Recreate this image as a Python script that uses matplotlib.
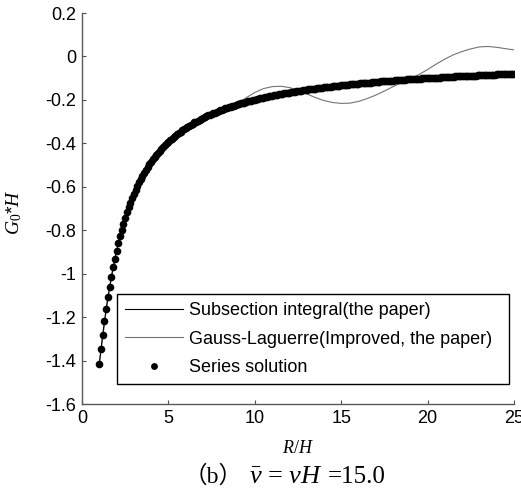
import numpy as np
import matplotlib
matplotlib.use('Agg')
import matplotlib.pyplot as plt

plt.rcParams['font.family'] = ['Liberation Sans', 'DejaVu Sans']
plt.rcParams['axes.unicode_minus'] = False
plt.rcParams['mathtext.fontset'] = 'custom'
plt.rcParams['mathtext.it'] = 'Liberation Serif:italic'
plt.rcParams['mathtext.rm'] = 'Liberation Serif'

# Series solution, one dot every 0.1 in R/H
series_r = np.linspace(1.0, 25.0, 241)
series_g = [
    -1.414, -1.345, -1.280, -1.219, -1.162, -1.109, -1.060, -1.014, -0.971, -0.931,
    -0.894, -0.860, -0.828, -0.797, -0.769, -0.743, -0.718, -0.695, -0.673, -0.652,
    -0.632, -0.614, -0.597, -0.580, -0.564, -0.549, -0.535, -0.522, -0.509, -0.497,
    -0.485, -0.474, -0.463, -0.453, -0.443, -0.434, -0.425, -0.416, -0.408, -0.400,
    -0.392, -0.385, -0.378, -0.371, -0.364, -0.358, -0.352, -0.346, -0.340, -0.334,
    -0.329, -0.324, -0.318, -0.314, -0.309, -0.304, -0.300, -0.295, -0.291, -0.287,
    -0.283, -0.279, -0.275, -0.271, -0.268, -0.264, -0.261, -0.258, -0.254, -0.251,
    -0.248, -0.245, -0.242, -0.239, -0.236, -0.234, -0.231, -0.228, -0.226, -0.223,
    -0.221, -0.218, -0.216, -0.214, -0.212, -0.209, -0.207, -0.205, -0.203, -0.201,
    -0.199, -0.197, -0.195, -0.193, -0.191, -0.190, -0.188, -0.186, -0.184, -0.183,
    -0.181, -0.179, -0.178, -0.176, -0.175, -0.173, -0.172, -0.170, -0.169, -0.167,
    -0.166, -0.165, -0.163, -0.162, -0.161, -0.160, -0.158, -0.157, -0.156, -0.155,
    -0.153, -0.152, -0.151, -0.150, -0.149, -0.148, -0.147, -0.146, -0.145, -0.144,
    -0.142, -0.141, -0.140, -0.140, -0.139, -0.138, -0.137, -0.136, -0.135, -0.134,
    -0.133, -0.132, -0.131, -0.130, -0.130, -0.129, -0.128, -0.127, -0.126, -0.126,
    -0.125, -0.124, -0.123, -0.122, -0.122, -0.121, -0.120, -0.120, -0.119, -0.118,
    -0.117, -0.117, -0.116, -0.115, -0.115, -0.114, -0.113, -0.113, -0.112, -0.112,
    -0.111, -0.110, -0.110, -0.109, -0.109, -0.108, -0.107, -0.107, -0.106, -0.106,
    -0.105, -0.105, -0.104, -0.103, -0.103, -0.102, -0.102, -0.101, -0.101, -0.100,
    -0.100, -0.099, -0.099, -0.098, -0.098, -0.097, -0.097, -0.097, -0.096, -0.096,
    -0.095, -0.095, -0.094, -0.094, -0.093, -0.093, -0.092, -0.092, -0.092, -0.091,
    -0.091, -0.090, -0.090, -0.090, -0.089, -0.089, -0.088, -0.088, -0.088, -0.087,
    -0.087, -0.087, -0.086, -0.086, -0.085, -0.085, -0.085, -0.084, -0.084, -0.084,
    -0.083, -0.083, -0.083, -0.082, -0.082, -0.082, -0.081, -0.081, -0.081, -0.080,
    -0.080]

# Subsection integral lies on top of the series solution
sub_r = series_r
sub_g = series_g

# Gauss-Laguerre (improved), wavy after R/H ~ 9
gl_r = [1.0, 1.5, 2.0, 2.5, 3.0, 4.0, 5.0, 6.0, 7.0, 8.0, 8.5, 9.0, 9.5, 10.0,
        10.5, 11.0, 11.5, 12.0, 12.5, 13.0, 13.5, 14.0, 14.5, 15.0, 15.5, 16.0,
        16.5, 17.0, 17.5, 18.0, 18.5, 19.0, 19.5, 20.0, 20.5, 21.0, 21.5, 22.0,
        22.5, 23.0, 23.5, 24.0, 24.5, 25.0]
gl_g = [-1.414, -1.109, -0.894, -0.743, -0.632, -0.485, -0.392, -0.329, -0.283,
        -0.248, -0.233, -0.214, -0.190, -0.166, -0.148, -0.139, -0.137, -0.143,
        -0.155, -0.172, -0.189, -0.203, -0.212, -0.216, -0.215, -0.207, -0.194,
        -0.178, -0.159, -0.139, -0.120, -0.102, -0.083, -0.060, -0.035, -0.012,
        0.008, 0.023, 0.035, 0.044, 0.046, 0.042, 0.036, 0.030]

xticks = [0, 5, 10, 15, 20, 25]
yticks = [0.2, 0, -0.2, -0.4, -0.6, -0.8, -1, -1.2, -1.4, -1.6]

fig = plt.figure(figsize=(5.21, 4.93), dpi=100)
ax = fig.add_axes([0.1574, 0.1805, 0.8292, 0.7931])

ax.plot(gl_r, gl_g, '-', color='0.45', lw=0.8,
        label='Gauss-Laguerre(Improved, the paper)')
ax.plot(sub_r, sub_g, '-', color='k', lw=0.8,
        label='Subsection integral(the paper)')
ax.plot(series_r, series_g, 'o', color='k', ms=5.5, mew=0,
        label='Series solution')

ax.set_xlim(0, 25)
ax.set_ylim(-1.6, 0.2)
ax.set_xticks(xticks)
ax.set_yticks(yticks)
ax.set_xticklabels(['%g' % t for t in xticks])
ax.set_yticklabels(['%g' % t for t in yticks])
ax.tick_params(direction='in', length=3, width=0.8, labelsize=13, pad=4,
               color='0.3')
for s in ['top', 'right']:
    ax.spines[s].set_visible(False)
for s in ['left', 'bottom']:
    ax.spines[s].set_color('0.35')
    ax.spines[s].set_linewidth(1.0)

ax.set_xlabel(r'$R/H$', fontsize=13, va='center')
ax.xaxis.set_label_coords(0.5, -0.1125)
ax.set_ylabel(r'$G_\mathit{0}$*$H$', fontsize=14, va='center', ha='center')
ax.yaxis.set_label_coords(-0.157, 0.49)

# legend order as in the picture
h, l = ax.get_legend_handles_labels()
order = [1, 0, 2]
leg = ax.legend([h[i] for i in order], [l[i] for i in order],
                loc='upper left', bbox_to_anchor=(0.081, 0.281, 0.907, 0),
                mode='expand', borderaxespad=0, fontsize=13, fancybox=False,
                framealpha=1, edgecolor='k', handlelength=3.2,
                handletextpad=0.35, labelspacing=0.63, borderpad=0.45,
                markerscale=0.9)
leg.get_frame().set_linewidth(1.0)

# caption under the chart
fig.text(0.352, 0.0203, '（b）', fontsize=17, va='baseline',
         family=['Liberation Serif', 'Noto Sans CJK SC'])
fig.text(0.478, 0.0203, r'$\bar{\nu}$ = $\nu H$', fontsize=19, va='baseline',
         family='Liberation Serif')
fig.text(0.629, 0.0203, '=15.0', fontsize=18, va='baseline',
         family='Liberation Serif')

fig.savefig('out.png', dpi=100)
